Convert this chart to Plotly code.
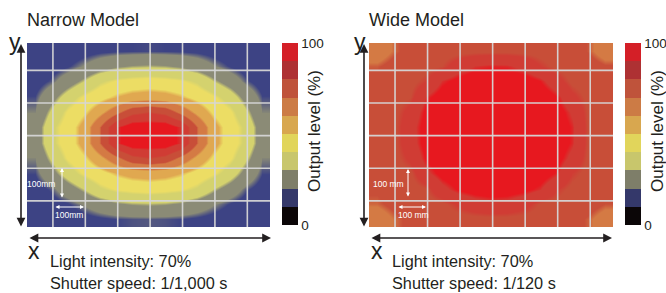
import plotly.graph_objects as go

W, H = 666, 293

# ---------------- data ----------------
# sample positions (mm) of the measured output-level grid
x_mm = [25, 75, 125, 175, 225, 275, 325, 375, 425, 475, 525, 575, 625, 675, 725]
y_mm = [23.5, 70.5, 117.5, 164.5, 211.5, 258.5, 305.5, 352.5, 399.5, 446.5, 493.5, 540.5]

# Output level (%) – Narrow Model (rows bottom -> top)
narrow_z = [
    [12, 14, 15.5, 17, 18, 18.8, 19.3, 19.5, 19.3, 18.8, 18, 17, 15.5, 14, 12],
    [14, 16.5, 18.5, 21.5, 25, 28, 29.5, 30, 29.5, 28, 25, 21.5, 18.5, 16.5, 14],
    [16.5, 19.5, 25, 31, 38, 41.5, 43, 44, 43, 41.5, 38, 31, 25, 19.5, 16.5],
    [19, 26, 35, 42, 46.5, 51, 54, 55, 54, 51, 46.5, 42, 35, 26, 19],
    [21, 32, 42, 48, 57, 67, 77, 80, 77, 67, 57, 48, 42, 32, 21],
    [24, 37, 45, 54, 70, 89, 96, 96, 96, 89, 70, 54, 45, 37, 24],
    [24, 37, 45, 54, 70, 89, 96, 96, 96, 89, 70, 54, 45, 37, 24],
    [21, 32, 42, 48, 57, 67, 77, 80, 77, 67, 57, 48, 42, 32, 21],
    [19, 26, 35, 42, 46.5, 51, 54, 55, 54, 51, 46.5, 42, 35, 26, 19],
    [16.5, 19.5, 25, 31, 38, 41.5, 43, 44, 43, 41.5, 38, 31, 25, 19.5, 16.5],
    [14, 16.5, 18.5, 21.5, 25, 28, 29.5, 30, 29.5, 28, 25, 21.5, 18.5, 16.5, 14],
    [12, 14, 15.5, 17, 18, 18.5, 18.8, 19, 18.8, 18.5, 18, 17, 15.5, 14, 12],
]

# Output level (%) – Wide Model (rows bottom -> top)
wide_z = [
    [64, 69, 73, 74.7, 75.8, 76.6, 77.1, 77.4, 77.3, 76.8, 76.1, 75.1, 73.9, 70, 65],
    [69.8, 73, 75.1, 76.5, 77.7, 81.8, 85.7, 87.3, 86.6, 83.5, 78.3, 76.9, 75.6, 74.1, 71],
    [72.1, 74.8, 76.6, 78.5, 86.8, 91.9, 94.3, 95.3, 94.8, 92.9, 89.5, 81.7, 77.1, 75.4, 73.4],
    [74.1, 75.9, 77.9, 87.4, 93.5, 96, 96, 96, 96, 96, 95.2, 90.6, 81.1, 76.6, 74.8],
    [74.7, 76.7, 82.5, 91.9, 96, 96, 96, 96, 96, 96, 96, 94, 86.8, 77.4, 75.5],
    [75.1, 77.1, 85.6, 93.8, 96, 96, 96, 96, 96, 96, 96, 96, 90.1, 77.9, 75.9],
    [75.2, 77.2, 86, 94, 96, 96, 96, 96, 96, 96, 96, 96, 90.3, 77.9, 75.9],
    [74.9, 76.9, 83.6, 92.6, 96, 96, 96, 96, 96, 96, 96, 94.7, 88, 77.6, 75.6],
    [74.3, 76.2, 78.7, 89.4, 94.7, 96, 96, 96, 96, 96, 96, 91.6, 82.8, 76.9, 75],
    [72.7, 75.1, 76.9, 80.9, 89.5, 93.4, 95.9, 96, 96, 94.5, 91.2, 84.2, 77.5, 75.8, 74],
    [70.4, 73.7, 75.5, 76.9, 78.9, 85, 89.2, 90.4, 90, 86.8, 81.3, 77.4, 76.1, 74.5, 71.7],
    [64, 69.5, 73.8, 75.2, 76.3, 77.1, 77.7, 77.9, 77.8, 77.4, 76.6, 75.6, 74.4, 70.5, 65],
]

grid_x = [80, 180, 280, 380, 480, 580, 680]
grid_y = [80, 180, 280, 380, 480]
x_range = [0, 750]
y_range = [0, 564]

level_min, level_max = 0, 100
tick_vals = [0, 100]
tick_text = ["0", "100"]

titles = ["Narrow Model", "Wide Model"]
intensity_txt = ["Light intensity: 70%", "Light intensity: 70%"]
shutter_txt = ["Shutter speed: 1/1,000 s", "Shutter speed: 1/120 s"]
scale_txt = ["100mm", "100 mm"]
cbar_title = "Output level (%)"

# ---------------- styles ----------------
map_colors = ['#140e0e', '#3d4384', '#8b8b76', '#d4d26e', '#ecdd64',
              '#e0a850', '#d47a44', '#c84e38', '#d03c34', '#e7181f']
bar_colors = ['#0b0607', '#34386a', '#7e7e69', '#c8c66c', '#e1d55b',
              '#d8a74f', '#cc7b45', '#bf533b', '#ae3133', '#d41f27']
TXT = '#231f20'
FONT = 'Liberation Sans, Arial, Helvetica, sans-serif'

n = len(map_colors)
soft = []
w = 0.012
for k, c in enumerate(map_colors):
    lo = k / n + (w if k > 0 else 0)
    hi = (k + 1) / n - (w if k < n - 1 else 0)
    soft.append([lo, c])
    soft.append([hi, c])
crisp = []
for k, c in enumerate(bar_colors):
    crisp.append([k / n, c])
    crisp.append([(k + 1) / n, c])


def X(px):
    return px / W


def Y(py):
    return 1 - py / H


fig = go.Figure()

panels = [
    dict(z=narrow_z, xa='x', ya='y', dom=[X(27), X(270)], cb_x=282, off=0),
    dict(z=wide_z, xa='x2', ya='y2', dom=[X(369), X(613)], cb_x=625, off=342),
]

for p in panels:
    fig.add_trace(go.Heatmap(
        x=x_mm, y=y_mm, z=p['z'], zmin=level_min, zmax=level_max,
        colorscale=soft, zsmooth='best', showscale=False,
        xaxis=p['xa'], yaxis=p['ya'], hoverinfo='skip'))
    fig.add_trace(go.Scatter(
        x=[None], y=[None], mode='markers', xaxis=p['xa'], yaxis=p['ya'],
        showlegend=False, hoverinfo='skip',
        marker=dict(color=[level_min], cmin=level_min, cmax=level_max,
                    colorscale=crisp, showscale=True,
                    colorbar=dict(x=X(p['cb_x']), xanchor='left',
                                  y=Y(134), yanchor='middle',
                                  len=182, lenmode='pixels',
                                  thickness=16, thicknessmode='pixels',
                                  xpad=0, ypad=0, outlinewidth=0,
                                  tickvals=tick_vals, ticktext=tick_text,
                                  ticks='',
                                  tickfont=dict(size=13.5, color=TXT, family=FONT)))))

shapes = []
for p in panels:
    for gx in grid_x:
        shapes.append(dict(type='line', xref=p['xa'], yref=p['ya'], x0=gx, x1=gx,
                           y0=y_range[0], y1=y_range[1], layer='above',
                           line=dict(color='rgba(214,214,214,0.95)', width=1.6)))
    for gy in grid_y:
        shapes.append(dict(type='line', xref=p['xa'], yref=p['ya'], y0=gy, y1=gy,
                           x0=x_range[0], x1=x_range[1], layer='above',
                           line=dict(color='rgba(214,214,214,0.95)', width=1.6)))

ann = []


def text(px, py, s, size, xanchor='left', angle=0, color=TXT):
    ann.append(dict(x=X(px), y=Y(py), xref='paper', yref='paper', text=s,
                    showarrow=False, xanchor=xanchor, yanchor='middle',
                    textangle=angle,
                    font=dict(size=size, color=color, family=FONT)))


def arrow(x0, y0, x1, y1, color, width, size):
    ann.append(dict(x=X(x1), y=Y(y1), xref='paper', yref='paper',
                    ax=x0 - x1, ay=y0 - y1, axref='pixel', ayref='pixel',
                    text='', showarrow=True, arrowside='end+start',
                    arrowhead=2, startarrowhead=2, arrowsize=size,
                    startarrowsize=size, arrowwidth=width, arrowcolor=color,
                    standoff=0, startstandoff=0))


for i, p in enumerate(panels):
    o = p['off']
    text(25 + o, 20, titles[i], 18)
    text(48 + o, 261, intensity_txt[i], 16.3)
    text(48 + o, 283, shutter_txt[i], 16.3)
    text(7 + o + (3 if i else 0), 42, 'y', 23)
    text(26 + o + (1 if i else 0), 251, 'x', 23)
    text(p['cb_x'] + 32, 131, cbar_title, 17, xanchor='center', angle=-90)
    # black axis arrows
    ax_x = 21 if i == 0 else 364
    arrow(ax_x, 228, ax_x, 44, TXT, 1.6, 1.1)
    x_lo = 28 if i == 0 else 370
    x_hi = 271 if i == 0 else 612
    arrow(x_lo, 238, x_hi, 238, TXT, 1.6, 1.1)

# white 100 mm scale arrows
arrow(62, 199, 62, 168, 'white', 1, 0.8)
arrow(54, 207, 84, 207, 'white', 1, 0.8)
text(40.5, 184, scale_txt[0], 8.5, xanchor='center', color='white')
text(69, 215, scale_txt[0], 8.5, xanchor='center', color='white')
arrow(408, 198, 408, 169, 'white', 1, 0.8)
arrow(397, 207, 426, 207, 'white', 1, 0.8)
text(388, 184, scale_txt[1], 8.5, xanchor='center', color='white')
text(413, 215, scale_txt[1], 8.5, xanchor='center', color='white')

axis_common = dict(showgrid=False, zeroline=False, showticklabels=False,
                   ticks='', showline=False, fixedrange=True)

fig.update_layout(
    width=W, height=H,
    margin=dict(l=0, r=0, t=0, b=0),
    paper_bgcolor='white', plot_bgcolor='white',
    showlegend=False,
    xaxis=dict(domain=panels[0]['dom'], range=x_range, anchor='y', **axis_common),
    yaxis=dict(domain=[Y(227), Y(43)], range=y_range, anchor='x', **axis_common),
    xaxis2=dict(domain=panels[1]['dom'], range=x_range, anchor='y2', **axis_common),
    yaxis2=dict(domain=[Y(227), Y(43)], range=y_range, anchor='x2', **axis_common),
    shapes=shapes,
    annotations=ann,
    font=dict(family=FONT, color=TXT),
)

fig.write_html("out.html", config={'displayModeBar': False},
               post_script="document.body.style.margin='0px';document.body.style.overflow='hidden';")
